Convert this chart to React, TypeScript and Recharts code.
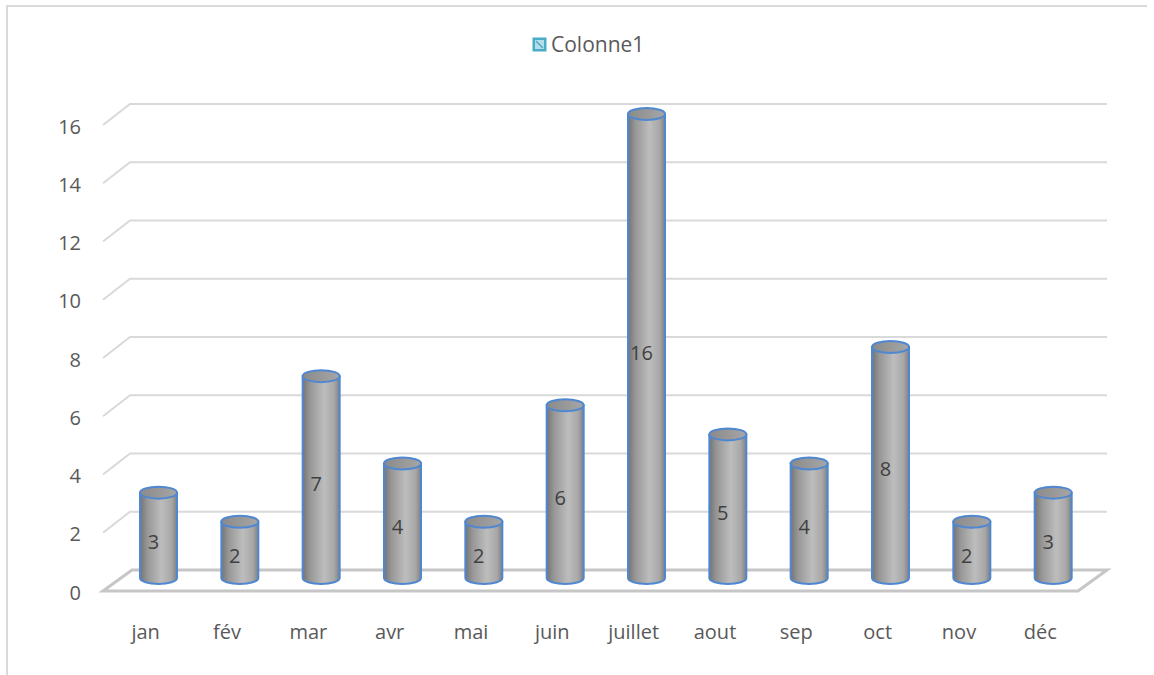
import React from "react"
import { BarChart, Bar, XAxis, YAxis, CartesianGrid, Legend, LabelList } from "recharts"

const months = ["jan", "fév", "mar", "avr", "mai", "juin", "juillet", "aout", "sep", "oct", "nov", "déc"]
const colonne1 = [3, 2, 7, 4, 2, 6, 16, 5, 4, 8, 2, 3]
const yTicks = [0, 2, 4, 6, 8, 10, 12, 14, 16]
const seriesName = "Colonne1"

const data = months.map((m, i) => ({ month: m, [seriesName]: colonne1[i] }))

const FONT = "'Open Sans', 'Liberation Sans', sans-serif"
const TEXT = "#595959"
const PLOT_BOTTOM = 574

// 3d look: back wall lines + slanted side edge
function GridLine(props: any) {
  const y = props.y1
  const floor = Math.abs(y - PLOT_BOTTOM) < 1
  if (floor) {
    return (
      <path
        key={props.key}
        d={`M103 ${y + 17} L1078 ${y + 17} L1107 ${y - 4} L132 ${y - 4} Z`}
        fill="none"
        stroke="#c6c6c6"
        strokeWidth={3}
      />
    )
  }
  return (
    <path
      key={props.key}
      d={`M103 ${y + 17} L130 ${y - 4} L1107 ${y - 4}`}
      fill="none"
      stroke="#d9d9d9"
      strokeWidth={2}
    />
  )
}

function Cylinder(props: any) {
  const { x, y, width, height } = props
  const rx = width / 2
  const ry = 6
  const top = y + 6
  const bottom = y + height + 4
  return (
    <g>
      <path
        d={`M${x} ${top} L${x} ${bottom} A${rx} ${ry} 0 0 0 ${x + width} ${bottom} L${x + width} ${top} Z`}
        fill="url(#cylBody)"
        stroke="#4f87d1"
        strokeWidth={2}
      />
      <ellipse cx={x + rx} cy={top} rx={rx} ry={ry} fill="url(#cylTop)" stroke="#4f87d1" strokeWidth={2} />
    </g>
  )
}

function ValueLabel(props: any) {
  const { x, y, width, height, value } = props
  return (
    <text
      x={x + width / 2 - 5}
      y={y + height / 2 + 11}
      textAnchor="middle"
      dominantBaseline="central"
      fill="#404040"
      fontSize={20}
      fontFamily={FONT}
    >
      {value}
    </text>
  )
}

function YTick(props: any) {
  return (
    <text x={81} y={props.y + 18} textAnchor="end" dominantBaseline="central" fill={TEXT} fontSize={20} fontFamily={FONT}>
      {props.payload.value}
    </text>
  )
}

function XTick(props: any) {
  return (
    <text x={props.x - 13} y={props.y + 57} textAnchor="middle" fill={TEXT} fontSize={20} fontFamily={FONT}>
      {props.payload.value}
    </text>
  )
}

function LegendContent() {
  return (
    <div style={{ display: "flex", alignItems: "center", marginLeft: 532, fontFamily: FONT, fontSize: 21, color: TEXT }}>
      <svg width={15} height={15} style={{ marginRight: 4 }}>
        <rect x={0.5} y={0.5} width={14} height={14} fill="#4bacc6" />
        <rect x={3} y={3} width={9} height={9} fill="#b7dde8" />
        <line x1={4} y1={4} x2={11} y2={11} stroke="#4bacc6" strokeWidth={1.5} />
      </svg>
      <span>{seriesName}</span>
    </div>
  )
}

export default function App() {
  return (
    <div style={{ position: "absolute", left: 0, top: 0, width: 1154, height: 675, background: "#fff", overflow: "hidden" }}>
      <div
        style={{
          position: "absolute",
          left: 6,
          top: 5,
          width: 1139,
          height: 670,
          borderTop: "2px solid #d9d9d9",
          borderLeft: "2px solid #d9d9d9",
        }}
      />
      <BarChart width={1154} height={675} data={data} margin={{ top: 80, right: 60, bottom: 71, left: 38 }}>
        <defs>
          <linearGradient id="cylBody" x1="0" y1="0" x2="1" y2="0">
            <stop offset="0%" stopColor="#747474" />
            <stop offset="20%" stopColor="#979797" />
            <stop offset="58%" stopColor="#bdbdbd" />
            <stop offset="85%" stopColor="#a8a8a8" />
            <stop offset="100%" stopColor="#808080" />
          </linearGradient>
          <linearGradient id="cylTop" x1="0" y1="0" x2="1" y2="0">
            <stop offset="0%" stopColor="#8a8a8a" />
            <stop offset="100%" stopColor="#a6a6a6" />
          </linearGradient>
        </defs>
        <CartesianGrid vertical={false} horizontal={GridLine as any} />
        <XAxis dataKey="month" axisLine={false} tickLine={false} height={30} tick={<XTick />} interval={0} />
        <YAxis width={80} domain={[0, 16]} ticks={yTicks} axisLine={false} tickLine={false} tick={<YTick />} interval={0} />
        <Legend verticalAlign="top" wrapperStyle={{ top: 30, left: 0, width: 1154 }} content={<LegendContent />} />
        <Bar dataKey={seriesName} barSize={37} shape={<Cylinder />} isAnimationActive={false}>
          <LabelList dataKey={seriesName} content={<ValueLabel />} />
        </Bar>
      </BarChart>
    </div>
  )
}
